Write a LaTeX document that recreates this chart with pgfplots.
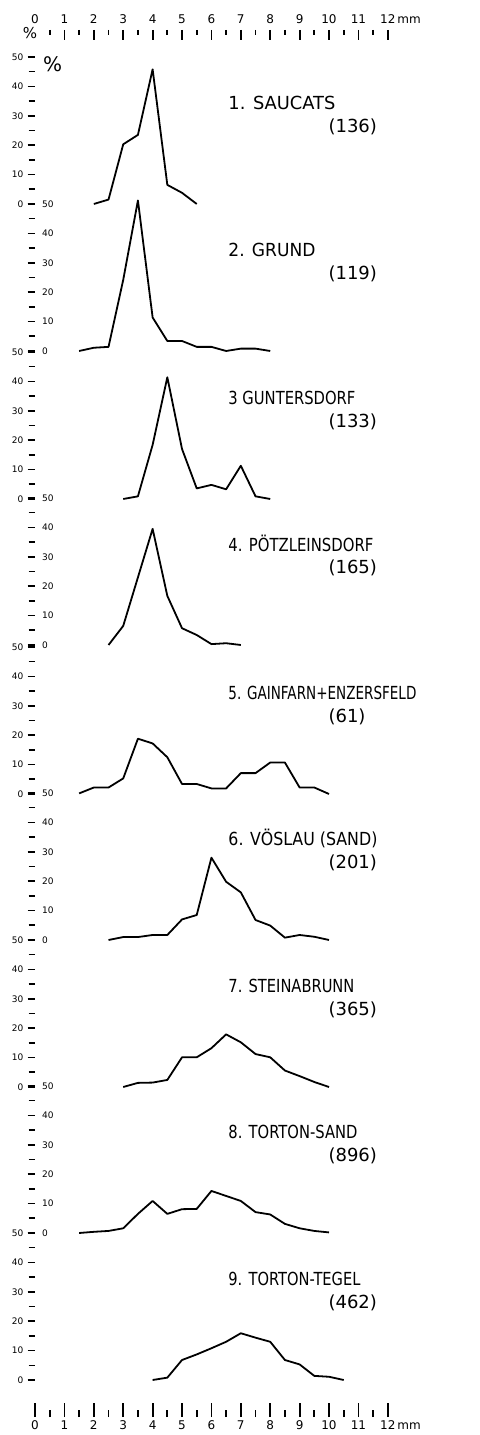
\documentclass[border=0pt]{standalone}
\usepackage{pgfplots}
\pgfplotsset{compat=1.18}
\usepackage{fontspec}
\setmainfont{DejaVu Sans}
\usepackage{graphicx}
\newcommand\ttl[2]{\resizebox{#1}{\height}{#2}}
\tikzset{
  curve/.style={black, line width=0.9pt, line join=round},
  tnode/.style={anchor=west, inner sep=0pt, font=\fontsize{9}{10}\selectfont},
}
\pgfplotsset{
  panel/.style={scale only axis, width=178.16pt, height=73.5pt,
    xmin=-0.12, xmax=12, ymin=0, ymax=50, anchor=south west,
    axis x line=none, axis y line*=left, y axis line style={draw=none},
    ytick={0,10,...,50}, minor ytick={5,15,...,45},
    tick align=center, major tick length=3.8pt, minor tick length=3pt,
    every tick/.style={black, line width=0.8pt}, clip=false,
    yticklabel style={font=\fontsize{4.5}{5}\selectfont, inner sep=0pt},
    /pgf/number format/assume math mode=true},
  leftlab/.style={yticklabel style={anchor=east, xshift=-2pt}},
  rightlab/.style={yticklabel style={anchor=west, xshift=7pt}},
}
\begin{document}
\begin{tikzpicture}
\useasboundingbox (0,0) rectangle (239.5pt,717.5pt);
% top ruler
\begin{axis}[scale only axis, width=176.4pt, height=1pt, xmin=0, xmax=12, ymin=0, ymax=1,
  at={(17.5pt,702.5pt)}, anchor=north west, axis x line*=top, axis y line=none,
  x axis line style={draw=none}, tick align=inside,
  xtick={1,...,12}, minor xtick={0.5,1.5,...,11.5},
  extra x ticks={0}, extra x tick style={major tick length=0pt},
  major tick length=5pt, minor tick length=2.5pt,
  every tick/.style={black, line width=0.9pt},
  xticklabels={1,2,3,4,5,6,7,8,9,10,11,12\rlap{\,mm}},
  extra x tick labels={0},
  xticklabel style={font=\fontsize{6}{7}\selectfont, inner sep=0pt, yshift=3pt},
  /pgf/number format/assume math mode=true]
\addplot[draw=none] coordinates {(0,0)(12,1)};
\end{axis}
\node[inner sep=0pt, font=\fontsize{7.5}{8}\selectfont] at (15pt,701pt) {\%};
% bottom ruler
\begin{axis}[scale only axis, width=176.4pt, height=1pt, xmin=0, xmax=12, ymin=0, ymax=1,
  at={(17.5pt,9pt)}, anchor=south west, axis x line*=bottom, axis y line=none,
  x axis line style={draw=none}, tick align=inside,
  xtick={0,...,12}, minor xtick={0.5,1.5,...,11.5},
  major tick length=7pt, minor tick length=3.5pt,
  every tick/.style={black, line width=0.9pt},
  xticklabels={0,1,2,3,4,5,6,7,8,9,10,11,12\rlap{\,mm}},
  xticklabel style={font=\fontsize{6}{7}\selectfont, inner sep=0pt, yshift=-1.5pt},
  /pgf/number format/assume math mode=true]
\addplot[draw=none] coordinates {(0,0)(12,1)};
\end{axis}
% panel 1
\begin{axis}[panel, leftlab, at={(15.75pt,615.5pt)}]
\addplot[curve] coordinates {(2,0)(2.5,1.5)(3,20.3)(3.5,23.5)(4,45.8)(4.5,6.5)(5,3.8)(5.5,0)};
\node[tnode] at (axis cs:6.565,34.4) {\ttl{53.5pt}{1. SAUCATS}};
\node[tnode] at (axis cs:9.97,26.4) {(136)};
\node[inner sep=0pt, font=\fontsize{10}{11}\selectfont] at (axis cs:0.6,47.5) {\%};
\end{axis}
% panel 2
\begin{axis}[panel, rightlab, at={(15.75pt,542pt)}]
\addplot[curve] coordinates {(1.5,0)(2,1.1)(2.5,1.4)(3,24.2)(3.5,51.2)(4,11.4)(4.5,3.4)(5,3.4)(5.5,1.4)(6,1.4)(6.5,0)(7,0.8)(7.5,0.8)(8,0)};
\node[tnode] at (axis cs:6.565,34.4) {\ttl{43.5pt}{2. GRUND}};
\node[tnode] at (axis cs:9.97,26.4) {(119)};
\end{axis}
% panel 3
\begin{axis}[panel, leftlab, at={(15.75pt,468pt)}]
\addplot[curve] coordinates {(3,0)(3.5,0.9)(4,18.4)(4.5,41.4)(5,17)(5.5,3.6)(6,4.8)(6.5,3.3)(7,11.3)(7.5,0.9)(8,0)};
\node[tnode] at (axis cs:6.565,34.4) {\ttl{63.5pt}{3 GUNTERSDORF}};
\node[tnode] at (axis cs:9.97,26.4) {(133)};
\end{axis}
% panel 4
\begin{axis}[panel, rightlab, at={(15.75pt,395pt)}]
\addplot[curve] coordinates {(2.5,0)(3,6.5)(3.5,23)(4,39.5)(4.5,16.7)(5,5.7)(5.5,3.4)(6,0.3)(6.5,0.6)(7,0)};
\node[tnode] at (axis cs:6.565,34.4) {\ttl{72.5pt}{4. PÖTZLEINSDORF}};
\node[tnode] at (axis cs:9.97,26.4) {(165)};
\end{axis}
% panel 5
\begin{axis}[panel, leftlab, at={(15.75pt,320.5pt)}]
\addplot[curve] coordinates {(1.5,0.2)(2,2.2)(2.5,2.2)(3,5.3)(3.5,18.8)(4,17.2)(4.5,12.5)(5,3.4)(5.5,3.4)(6,1.9)(6.5,1.9)(7,7.1)(7.5,7.1)(8,10.7)(8.5,10.7)(9,2.2)(9.5,2.2)(10,0)};
\node[tnode] at (axis cs:6.565,34.4) {\ttl{94pt}{5. GAINFARN+ENZERSFELD}};
\node[tnode] at (axis cs:9.97,26.4) {(61)};
\end{axis}
% panel 6
\begin{axis}[panel, rightlab, at={(15.75pt,247.5pt)}]
\addplot[curve] coordinates {(2.5,0)(3,1)(3.5,1)(4,1.7)(4.5,1.7)(5,7)(5.5,8.5)(6,28)(6.5,19.8)(7,16.2)(7.5,6.8)(8,4.9)(8.5,0.8)(9,1.7)(9.5,1.1)(10,0)};
\node[tnode] at (axis cs:6.565,34.4) {\ttl{74.5pt}{6. VÖSLAU (SAND)}};
\node[tnode] at (axis cs:9.97,26.4) {(201)};
\end{axis}
% panel 7
\begin{axis}[panel, leftlab, at={(15.75pt,174pt)}]
\addplot[curve] coordinates {(3,0)(3.5,1.4)(4,1.5)(4.5,2.4)(5,10.1)(5.5,10.1)(6,13.2)(6.5,17.9)(7,15.2)(7.5,11.2)(8,10.1)(8.5,5.6)(9,3.7)(9.5,1.7)(10,0)};
\node[tnode] at (axis cs:6.565,34.4) {\ttl{63pt}{7. STEINABRUNN}};
\node[tnode] at (axis cs:9.97,26.4) {(365)};
\end{axis}
% panel 8
\begin{axis}[panel, rightlab, at={(15.75pt,101pt)}]
\addplot[curve] coordinates {(1.5,0)(2,0.4)(2.5,0.7)(3,1.6)(3.5,6.5)(4,10.9)(4.5,6.5)(5,8.1)(5.5,8.2)(6,14.3)(6.5,12.6)(7,10.9)(7.5,7.1)(8,6.3)(8.5,3.1)(9,1.6)(9.5,0.7)(10,0.2)};
\node[tnode] at (axis cs:6.565,34.4) {\ttl{64.5pt}{8. TORTON-SAND}};
\node[tnode] at (axis cs:9.97,26.4) {(896)};
\end{axis}
% panel 9
\begin{axis}[panel, leftlab, at={(15.75pt,27.5pt)}]
\addplot[curve] coordinates {(4,0)(4.5,0.8)(5,6.8)(5.5,8.7)(6,10.8)(6.5,13)(7,15.9)(7.5,14.4)(8,13)(8.5,6.8)(9,5.3)(9.5,1.4)(10,1.1)(10.5,0)};
\node[tnode] at (axis cs:6.565,34.4) {\ttl{66pt}{9. TORTON-TEGEL}};
\node[tnode] at (axis cs:9.97,26.4) {(462)};
\end{axis}
\end{tikzpicture}
\end{document}
